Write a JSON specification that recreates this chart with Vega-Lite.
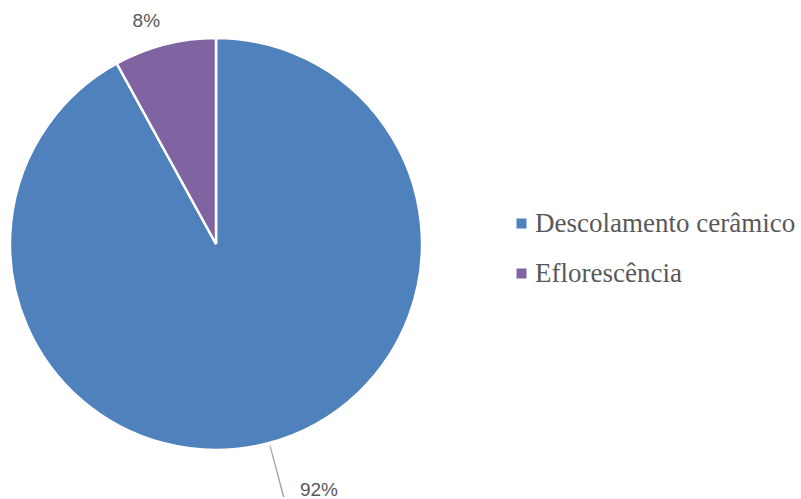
{
  "$schema": "https://vega.github.io/schema/vega-lite/v6.json",
  "width": 432,
  "height": 488,
  "autosize": {"type": "none"},
  "padding": {"left": 0, "top": 0, "right": 369, "bottom": 11},
  "background": "white",
  "config": {"view": {"stroke": null}},
  "data": {
    "values": [
      {"categoria": "Descolamento cerâmico", "valor": 92, "rotulo": "92%"},
      {"categoria": "Eflorescência", "valor": 8, "rotulo": "8%"}
    ]
  },
  "transform": [
    {"stack": "valor", "groupby": [], "sort": [{"field": "categoria", "order": "ascending"}], "as": ["v0", "v1"]}
  ],
  "encoding": {
    "theta": {"field": "valor", "type": "quantitative", "stack": true},
    "order": {"field": "categoria", "sort": "ascending"}
  },
  "layer": [
    {
      "mark": {"type": "arc", "outerRadius": 206, "stroke": "white", "strokeWidth": 2.5},
      "encoding": {
        "color": {
          "field": "categoria",
          "type": "nominal",
          "scale": {"domain": ["Descolamento cerâmico", "Eflorescência"], "range": ["#4F81BD", "#8064A2"]},
          "legend": {
            "title": null,
            "orient": "none",
            "legendX": 508,
            "legendY": 210,
            "symbolType": "square",
            "symbolSize": 100,
            "symbolStrokeWidth": 0,
            "labelFont": "Liberation Serif",
            "labelFontSize": 27,
            "labelColor": "#595959",
            "labelOffset": 0,
            "rowPadding": 22,
            "labelLimit": 400
          }
        }
      }
    },
    {
      "mark": {"type": "arc", "innerRadius": 209, "outerRadius": 262, "thetaOffset": 2.877, "theta2Offset": -2.8975, "fill": "#A6A6A6", "stroke": null},
      "encoding": {
        "theta": {"field": "v0", "type": "quantitative", "stack": null},
        "theta2": {"field": "v1"},
        "order": null,
        "opacity": {"condition": {"test": "datum.categoria === 'Descolamento cerâmico'", "value": 1}, "value": 0}
      }
    },
    {
      "mark": {"type": "text", "radius": 232, "dx": -12, "dy": 2, "font": "Liberation Sans", "fontSize": 19, "fill": "#595959"},
      "encoding": {
        "text": {"field": "rotulo"},
        "opacity": {"condition": {"test": "datum.categoria === 'Eflorescência'", "value": 1}, "value": 0}
      }
    },
    {
      "mark": {"type": "text", "radius": 265, "dx": 37, "dy": -11, "font": "Liberation Sans", "fontSize": 19, "fill": "#595959"},
      "encoding": {
        "text": {"field": "rotulo"},
        "opacity": {"condition": {"test": "datum.categoria === 'Descolamento cerâmico'", "value": 1}, "value": 0}
      }
    }
  ]
}
